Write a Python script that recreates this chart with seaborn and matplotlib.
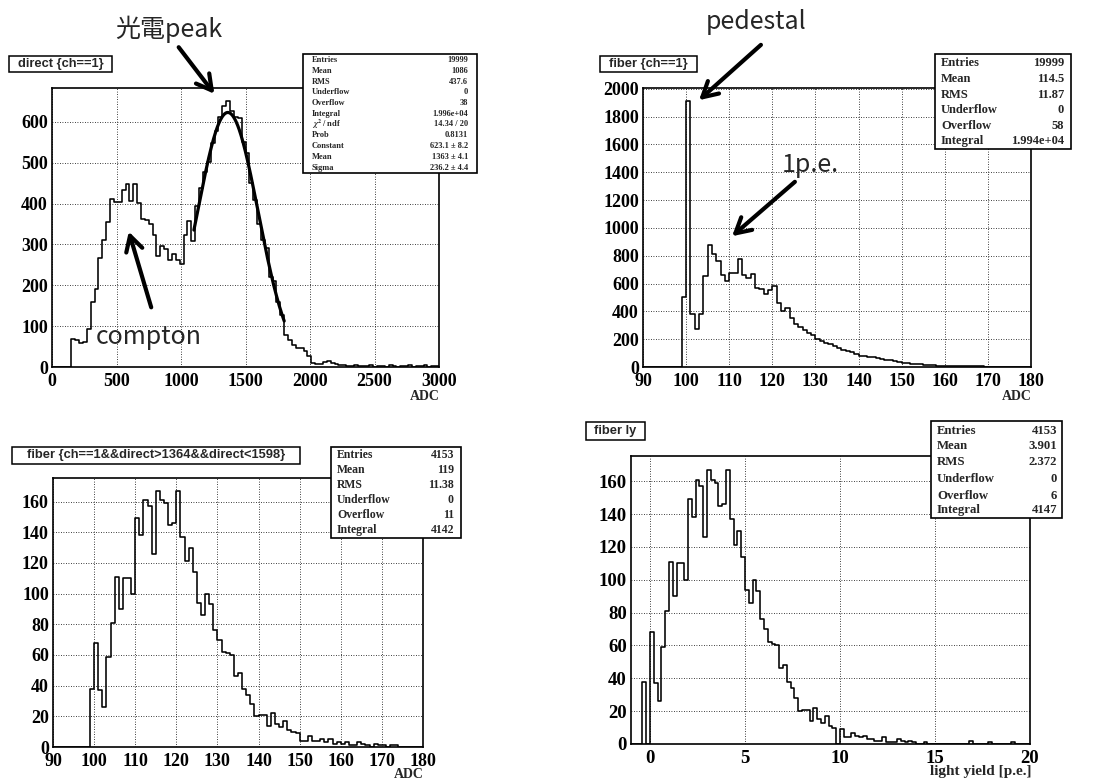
import numpy as np
import pandas as pd
import matplotlib
matplotlib.use("Agg")
import matplotlib.pyplot as plt
import seaborn as sns
from matplotlib.ticker import MultipleLocator
from matplotlib.patches import Rectangle, FancyArrowPatch

# ---------------- data ----------------
# panel 1: direct {ch==1}, bins of 30 ADC starting at 0
p1_lo, p1_width = 0, 30
p1_counts = [0, 0, 0, 0, 0,
             68, 66, 58, 60, 92, 160, 190, 267, 310, 355, 411, 404, 405, 434, 448,
             406, 448, 402, 363, 359, 349, 324, 271, 297, 288, 263, 277, 263, 251,
             324, 357, 308, 394, 437, 478, 501, 548, 578, 611, 640, 652, 626, 612,
             610, 550, 525, 450, 410, 350, 310, 292, 220, 210, 158, 128, 78, 65,
             54, 47, 46, 39, 28, 11, 7, 8, 12, 14, 10, 7, 4, 5, 3, 2, 4, 2, 3, 2,
             4, 1, 2, 3, 1, 4, 2, 1, 3, 2, 4, 1, 2, 3, 5, 1, 2, 3]
fit_const, fit_mean, fit_sigma = 623.1, 1363.0, 236.2
fit_range = [1100, 1800]

# panel 2: fiber {ch==1}, bins of 1 ADC starting at 90
p2_lo, p2_width = 90, 1
p2_counts = [0, 0, 0, 0, 0, 0, 0, 0, 0,
             505, 1910, 383, 275, 378, 654, 874, 810, 762, 661, 618, 678, 678, 774,
             661, 637, 671, 565, 558, 527, 551, 582, 457, 402, 422, 354, 311, 287,
             266, 247, 230, 199, 187, 175, 165, 148, 140, 125, 115, 105, 95, 78, 82,
             72, 74, 62, 55, 52, 50, 40, 34, 30, 27, 24, 20, 18, 15, 14, 12, 10, 10,
             8, 8, 7, 6, 6, 5, 5, 4, 4, 3, 3, 3, 2, 2, 2, 2, 1, 1, 1, 1]

# panel 3: fiber {ch==1&&direct>1364&&direct<1598}, bins of 1 ADC starting at 90
p3_lo, p3_width = 90, 1
p3_counts = [0, 0, 0, 0, 0, 0, 0, 0, 0,
             38, 68, 37, 26, 59, 81, 111, 90, 110, 110, 100, 149, 138, 161, 157,
             126, 167, 161, 159, 145, 146, 167, 137, 121, 130, 114, 94, 86, 100, 93,
             76, 70, 62, 61, 60, 46, 48, 38, 34, 28, 20, 21, 21, 14, 22, 15, 13, 17,
             11, 10, 9, 4, 4, 7, 4, 4, 5, 3, 5, 2, 3, 2, 3, 1, 1, 3, 2, 1, 0, 2, 1,
             1, 0, 1, 1, 0, 0, 0, 0, 0, 0]

# panel 4: fiber ly, bins of 0.2 p.e. starting at -1
p4_lo, p4_width = -1.0, 0.2
p4_counts = [0, 0, 0, 38, 0, 68, 37, 26, 59, 81, 111, 90, 110, 110, 100, 149, 138,
             161, 157, 126, 167, 161, 159, 145, 146, 167, 137, 121, 130, 114, 94, 86,
             100, 93, 76, 70, 62, 61, 60, 46, 48, 38, 34, 28, 20, 21, 21, 14, 22, 15,
             13, 17, 11, 10, 0, 9, 4, 4, 7, 5, 4, 5, 3, 3, 2, 2, 4, 1, 1, 1, 3, 2, 1,
             2, 1, 0, 0, 1, 0, 0, 0, 0, 0, 0, 0, 0, 0, 0, 0, 2, 0, 0, 0, 0, 1, 0, 0,
             0, 0, 0, 1, 0, 0, 0, 0]

titles = ["direct {ch==1}", "fiber {ch==1}",
          "fiber {ch==1&&direct>1364&&direct<1598}", "fiber ly"]
xlabels = ["ADC", "ADC", "ADC", "light yield [p.e.]"]

stats1 = [("Entries", "19999"), ("Mean", "1086"), ("RMS", "437.6"),
          ("Underflow", "0"), ("Overflow", "38"), ("Integral", "1.996e+04"),
          ("$\\chi^2$ / ndf", "14.34 / 20"), ("Prob", "0.8131"),
          ("Constant", "623.1 ± 8.2"), ("Mean", "1363 ± 4.1"), ("Sigma", "236.2 ± 4.4")]
stats2 = [("Entries", "19999"), ("Mean", "114.5"), ("RMS", "11.87"),
          ("Underflow", "0"), ("Overflow", "58"), ("Integral", "1.994e+04")]
stats3 = [("Entries", "4153"), ("Mean", "119"), ("RMS", "11.38"),
          ("Underflow", "0"), ("Overflow", "11"), ("Integral", "4142")]
stats4 = [("Entries", "4153"), ("Mean", "3.901"), ("RMS", "2.372"),
          ("Underflow", "0"), ("Overflow", "6"), ("Integral", "4147")]

# ---------------- style ----------------
W, H = 1107, 783
sns.set_style("white")
plt.rcParams["font.family"] = ["Liberation Serif", "DejaVu Serif"]
plt.rcParams["font.weight"] = "bold"
plt.rcParams["mathtext.fontset"] = "stix"

fig = plt.figure(figsize=(W / 100, H / 100), dpi=100)


def axrect(l, t, r, b):
    return [l / W, 1 - b / H, (r - l) / W, (b - t) / H]


def fx(x):
    return x / W


def fy(y):
    return 1 - y / H


def draw_hist(ax, lo, width, counts, xlim, ymax, xmaj, xmin_, ymaj, ymin_, fs):
    counts = np.asarray(counts, dtype=float)
    edges = lo + width * np.arange(len(counts) + 1)
    centers = edges[:-1] + width / 2
    df = pd.DataFrame({"x": centers, "w": counts})
    sns.histplot(data=df, x="x", weights="w", bins=[float(e) for e in edges],
                 element="step", fill=False, color="black", linewidth=1.15, ax=ax)
    ax.set_xlim(*xlim)
    ax.set_ylim(0, ymax)
    ax.set_xlabel("")
    ax.set_ylabel("")
    ax.xaxis.set_major_locator(MultipleLocator(xmaj))
    ax.xaxis.set_minor_locator(MultipleLocator(xmin_))
    ax.yaxis.set_major_locator(MultipleLocator(ymaj))
    ax.yaxis.set_minor_locator(MultipleLocator(ymin_))
    ax.tick_params(which="major", direction="in", length=7, width=1,
                   top=False, right=False, labelsize=fs, pad=3, colors="black")
    ax.tick_params(which="minor", direction="in", length=3.5, width=0.8,
                   top=False, right=False)
    ax.tick_params(axis="x", which="major", pad=4)
    ax.grid(True, which="major", ls=(0, (1, 2)), color="black", lw=0.6)
    ax.set_axisbelow(True)
    for s in ax.spines.values():
        s.set_color("black")
        s.set_linewidth(1.2)
    for lbl in ax.get_xticklabels() + ax.get_yticklabels():
        lbl.set_fontweight("bold")


def title_box(l, t, r, b, text, fs=9.3):
    fig.patches.append(Rectangle((fx(l), fy(b)), (r - l) / W, (b - t) / H,
                                 transform=fig.transFigure, facecolor="white",
                                 edgecolor="black", lw=1.1, zorder=10))
    fig.text(fx((l + r) / 2), fy((t + b) / 2), text, ha="center", va="center",
             fontsize=fs, fontweight="bold", family=["Liberation Sans", "DejaVu Sans"],
             zorder=11)


def stats_box(l, t, r, b, rows, row_ys, lab_x, val_x, fs):
    fig.patches.append(Rectangle((fx(l), fy(b)), (r - l) / W, (b - t) / H,
                                 transform=fig.transFigure, facecolor="white",
                                 edgecolor="black", lw=1.2, zorder=10))
    for (lab, val), y in zip(rows, row_ys):
        fig.text(fx(lab_x), fy(y), lab, ha="left", va="center", fontsize=fs,
                 fontweight="bold", zorder=11)
        fig.text(fx(val_x), fy(y), val, ha="right", va="center", fontsize=fs,
                 fontweight="bold", zorder=11)


# ---------------- panels ----------------
ax1 = fig.add_axes(axrect(52, 88, 439, 367))
draw_hist(ax1, p1_lo, p1_width, p1_counts, (0, 3000), 683, 500, 100, 100, 20, 13)
xf = np.linspace(fit_range[0], fit_range[1], 300)
yf = fit_const * np.exp(-0.5 * ((xf - fit_mean) / fit_sigma) ** 2)
sns.lineplot(x=xf, y=yf, color="black", lw=2.3, ax=ax1, sort=False)

ax2 = fig.add_axes(axrect(643, 88, 1031, 367))
draw_hist(ax2, p2_lo, p2_width, p2_counts, (90, 180), 2005, 10, 2, 200, 50, 13)

ax3 = fig.add_axes(axrect(53, 478, 423, 747))
draw_hist(ax3, p3_lo, p3_width, p3_counts, (90, 180), 175.4, 10, 2, 20, 5, 13)

ax4 = fig.add_axes(axrect(631, 456, 1030, 744))
draw_hist(ax4, p4_lo, p4_width, p4_counts, (-1, 20), 175.4, 5, 1, 20, 5, 13.5)

# axis titles
fig.text(fx(440), fy(397), xlabels[0], ha="right", va="center", fontsize=10)
fig.text(fx(1032), fy(397), xlabels[1], ha="right", va="center", fontsize=10)
fig.text(fx(424), fy(775), xlabels[2], ha="right", va="center", fontsize=10)
fig.text(fx(1031), fy(772), xlabels[3], ha="right", va="center", fontsize=11)

# title boxes
title_box(9, 56, 112, 72, titles[0])
title_box(600, 56, 697, 72, titles[1])
title_box(12, 447, 300, 464, titles[2])
title_box(586, 422, 645, 440, titles[3])

# stats boxes
stats_box(303, 54, 477, 173, stats1,
          [60, 71, 82, 92, 103, 114, 124, 135, 146, 157, 168], 312, 468, 6.0)
stats_box(935, 54, 1071, 149, stats2, [63, 79, 95, 110, 126, 141], 941, 1064, 9)
stats_box(331, 447, 461, 538, stats3, [455, 470, 485, 500, 515, 530], 337, 454, 8.5)
stats_box(931, 421, 1062, 518, stats4, [431, 446, 462, 479, 496, 510], 937, 1057, 9.2)

# annotations
ann_font = ["Noto Sans CJK JP", "DejaVu Sans"]
arrow_kw = dict(arrowstyle="->,head_length=0.9,head_width=0.5", color="black", lw=3)


def annotate(text, tx, ty, ax_from, ay_from, ax_to, ay_to, fs=18):
    fig.text(fx(tx), fy(ty), text, ha="center", va="center", fontsize=fs,
             fontweight="normal", family=ann_font, zorder=12)
    fig.add_artist(FancyArrowPatch(
        (fx(ax_from), fy(ay_from)), (fx(ax_to), fy(ay_to)),
        transform=fig.transFigure, mutation_scale=12, zorder=12, **arrow_kw))


annotate("光電peak", 169, 29, 177, 45, 216, 96)
annotate("compton", 149, 337, 152, 310, 128, 229)
annotate("pedestal", 756, 22, 763, 43, 697, 102)
annotate("1p.e.", 810, 165, 797, 180, 730, 238)

fig.savefig("out.png", dpi=100)
